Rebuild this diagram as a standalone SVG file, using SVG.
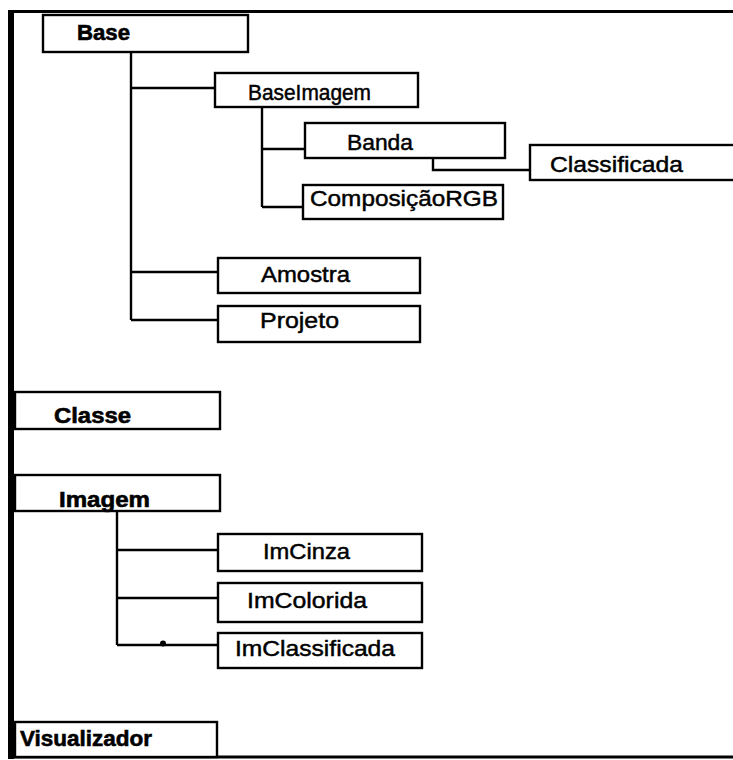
<svg xmlns="http://www.w3.org/2000/svg" width="733" height="760" viewBox="0 0 733 760">
<style>
.box{fill:#fff;stroke:#000;stroke-width:2.4}
.t{font-family:"Liberation Sans",Arial,sans-serif;font-size:21.5px;fill:#000;stroke:#000;stroke-width:0.45}
.b{font-weight:bold;font-size:22px;stroke-width:0.6}
.c{fill:none;stroke:#000;stroke-width:2.4}
</style>
<rect width="733" height="760" fill="#fff"/>
<g id="frame">
<line x1="8" y1="11.5" x2="733" y2="11.5" stroke="#000" stroke-width="3"/>
<line x1="11" y1="10" x2="11" y2="759" stroke="#000" stroke-width="6"/>
<line x1="8" y1="757" x2="733" y2="757" stroke="#000" stroke-width="3"/>
</g>
<g id="connectors">
<path class="c" d="M131,52 V320 M131,88 H215 M131,272 H218 M131,320 H218"/>
<path class="c" d="M262,106 V207 M262,149 H305 M262,207 H303"/>
<path class="c" d="M433,157 V170 H530"/>
<path class="c" d="M117,511 V645 M117,550 H218 M117,598 H218 M117,645 H218"/>
<circle cx="163" cy="643.5" r="3" fill="#000"/>
</g>
<g id="Base"><rect class="box" x="43" y="15" width="205" height="37"/><text class="t b" x="77" y="40" textLength="53" lengthAdjust="spacingAndGlyphs">Base</text></g>
<g id="BaseImagem"><rect class="box" x="215" y="73" width="203" height="34"/><text class="t" x="248" y="100" textLength="123" lengthAdjust="spacingAndGlyphs">BaseImagem</text></g>
<g id="Banda"><rect class="box" x="305" y="123" width="200" height="35"/><text class="t" x="347" y="150" textLength="66" lengthAdjust="spacingAndGlyphs">Banda</text></g>
<g id="Classificada"><rect class="box" x="530" y="145" width="215" height="35"/><text class="t" x="550" y="172" textLength="133" lengthAdjust="spacingAndGlyphs">Classificada</text></g>
<g id="ComposicaoRGB"><rect class="box" x="303" y="185" width="200" height="34"/><text class="t" x="310" y="206" textLength="188" lengthAdjust="spacingAndGlyphs">ComposiçãoRGB</text></g>
<g id="Amostra"><rect class="box" x="218" y="258" width="202" height="35"/><text class="t" x="261" y="282" textLength="89" lengthAdjust="spacingAndGlyphs">Amostra</text></g>
<g id="Projeto"><rect class="box" x="218" y="306" width="202" height="36"/><text class="t" x="260" y="328" textLength="79" lengthAdjust="spacingAndGlyphs">Projeto</text></g>
<g id="Classe"><rect class="box" x="15" y="392" width="205" height="37"/><text class="t b" x="54" y="423" textLength="77" lengthAdjust="spacingAndGlyphs">Classe</text></g>
<g id="Imagem"><rect class="box" x="15" y="475" width="205" height="36"/><text class="t b" x="59" y="507" textLength="91" lengthAdjust="spacingAndGlyphs">Imagem</text></g>
<g id="ImCinza"><rect class="box" x="218" y="534" width="204" height="37"/><text class="t" x="263" y="559" textLength="87" lengthAdjust="spacingAndGlyphs">ImCinza</text></g>
<g id="ImColorida"><rect class="box" x="218" y="583" width="204" height="39"/><text class="t" x="247" y="608" textLength="120" lengthAdjust="spacingAndGlyphs">ImColorida</text></g>
<g id="ImClassificada"><rect class="box" x="218" y="633" width="204" height="35"/><text class="t" x="235" y="656" textLength="160" lengthAdjust="spacingAndGlyphs">ImClassificada</text></g>
<g id="Visualizador"><rect class="box" x="15" y="722" width="202" height="35"/><text class="t b" x="20" y="746" textLength="132" lengthAdjust="spacingAndGlyphs">Visualizador</text></g>
</svg>
